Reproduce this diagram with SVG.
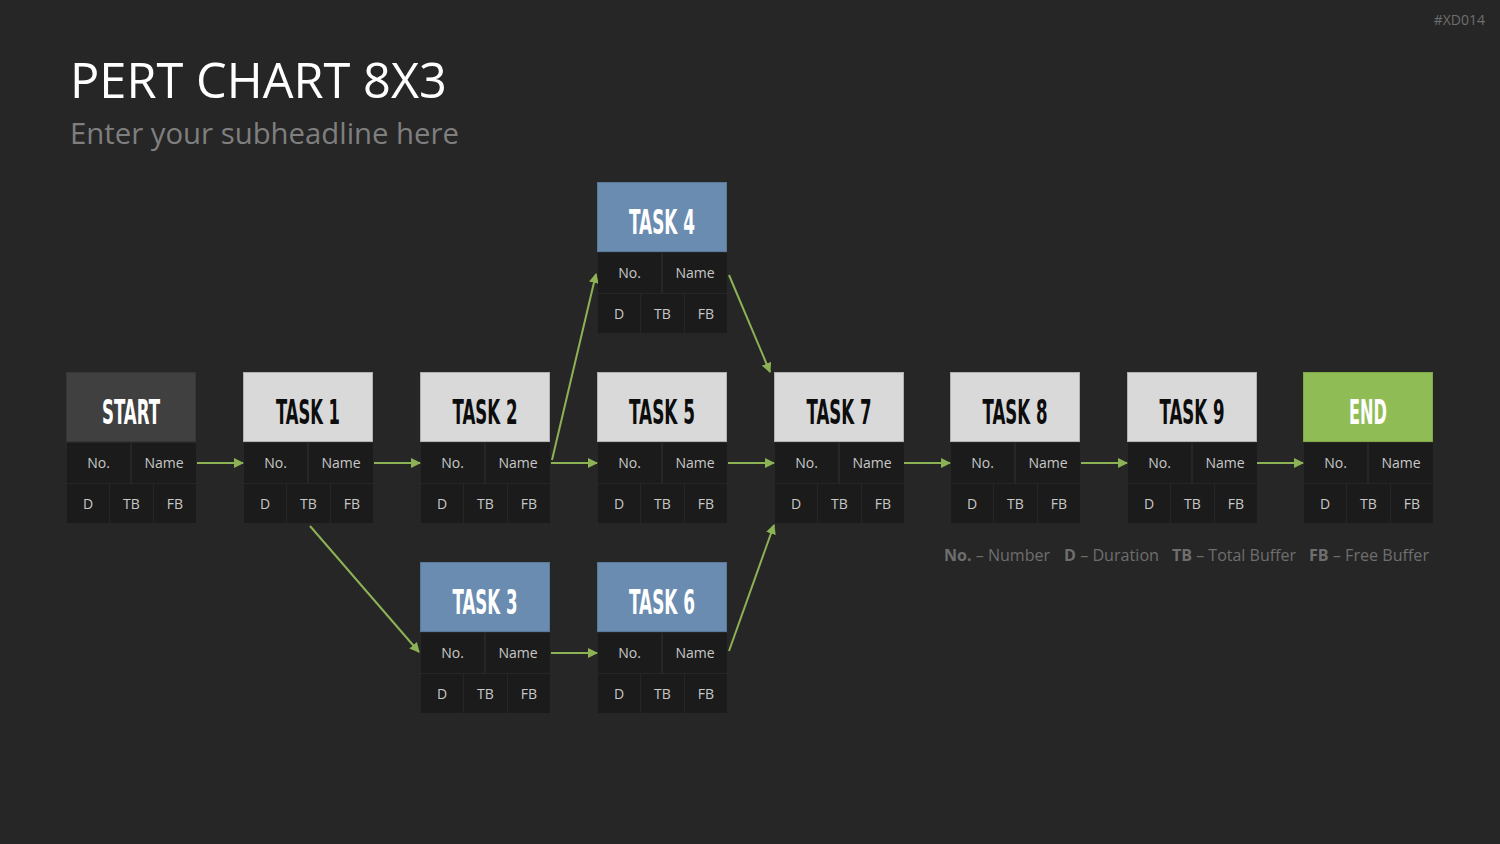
<svg xmlns="http://www.w3.org/2000/svg" width="1500" height="844" viewBox="0 0 1500 844">
<defs>
<style>
.hd{stroke-width:1}
.gray{fill:#d9d9d9;stroke:#b0b0b0}
.dark{fill:#404040;stroke:#363636}
.blue{fill:#6a8cb0;stroke:#5a7a9a}
.green{fill:#8fbc55;stroke:#7fa84a}
.cell{fill:#1b1b1b}
.ht{font-family:"Liberation Sans Narrow","DejaVu Sans Condensed","Liberation Sans",sans-serif;font-weight:bold;font-size:33px;text-anchor:middle}
.hk{fill:#0d0d0d}
.hw{fill:#ffffff}
.ct{font-family:"Open Sans","Liberation Sans",sans-serif;font-size:14px;fill:#c8c8c8;text-anchor:middle}
.cn{stroke:#8db255;stroke-width:2;fill:none;marker-end:url(#ah)}
.lg{font-family:"Open Sans","Liberation Sans",sans-serif;font-size:16px;fill:#6e6e6e}
</style>
<marker id="ah" viewBox="0 0 10 10" refX="9" refY="5" markerWidth="5" markerHeight="5" markerUnits="strokeWidth" orient="auto">
<path d="M0,0 L10,5 L0,10 z" fill="#8db255"/>
</marker>
</defs>
<rect width="1500" height="844" fill="#262626"/>
<text x="1485" y="25" font-family="'Open Sans','Liberation Sans',sans-serif" font-size="14" fill="#6e6e6e" text-anchor="end">#XD014</text>
<text x="70" y="98" font-family="'Open Sans','Liberation Sans',sans-serif" font-size="50" fill="#ffffff" textLength="377" lengthAdjust="spacingAndGlyphs">PERT CHART 8X3</text>
<text x="70" y="144" font-family="'Open Sans','Liberation Sans',sans-serif" font-size="30" fill="#7f7f7f" textLength="389" lengthAdjust="spacingAndGlyphs">Enter your subheadline here</text>

<g id="connectors">
<line class="cn" x1="197" y1="463" x2="243" y2="463"/>
<line class="cn" x1="374" y1="463" x2="420" y2="463"/>
<line class="cn" x1="551" y1="463" x2="597" y2="463"/>
<line class="cn" x1="728" y1="463" x2="774" y2="463"/>
<line class="cn" x1="904" y1="463" x2="950" y2="463"/>
<line class="cn" x1="1081" y1="463" x2="1127" y2="463"/>
<line class="cn" x1="1257" y1="463" x2="1303" y2="463"/>
<line class="cn" x1="552" y1="460" x2="596" y2="274"/>
<line class="cn" x1="729" y1="275" x2="770" y2="372"/>
<line class="cn" x1="310" y1="526" x2="419" y2="652"/>
<line class="cn" x1="551" y1="653" x2="597" y2="653"/>
<line class="cn" x1="729" y1="651" x2="774" y2="525"/>
</g>

<g id="start">
<rect class="hd dark" x="66.5" y="372.5" width="129" height="69"/>
<text class="ht hw" x="131" y="424" textLength="58" lengthAdjust="spacingAndGlyphs">START</text>
<rect class="cell" x="67" y="443" width="63" height="40"/><rect class="cell" x="132" y="443" width="64" height="40"/>
<rect class="cell" x="67" y="484" width="42" height="39"/><rect class="cell" x="110" y="484" width="43" height="39"/><rect class="cell" x="154" y="484" width="42" height="39"/>
<text class="ct" x="98.5" y="468">No.</text><text class="ct" x="164" y="468">Name</text>
<text class="ct" x="88" y="509">D</text><text class="ct" x="131.5" y="509">TB</text><text class="ct" x="175" y="509">FB</text>
</g>

<g id="task1">
<rect class="hd gray" x="243.5" y="372.5" width="129" height="69"/>
<text class="ht hk" x="308" y="424" textLength="64" lengthAdjust="spacingAndGlyphs">TASK 1</text>
<rect class="cell" x="244" y="443" width="63" height="40"/><rect class="cell" x="309" y="443" width="64" height="40"/>
<rect class="cell" x="244" y="484" width="42" height="39"/><rect class="cell" x="287" y="484" width="43" height="39"/><rect class="cell" x="331" y="484" width="42" height="39"/>
<text class="ct" x="275.5" y="468">No.</text><text class="ct" x="341" y="468">Name</text>
<text class="ct" x="265" y="509">D</text><text class="ct" x="308.5" y="509">TB</text><text class="ct" x="352" y="509">FB</text>
</g>

<g id="task2">
<rect class="hd gray" x="420.5" y="372.5" width="129" height="69"/>
<text class="ht hk" x="485" y="424" textLength="65" lengthAdjust="spacingAndGlyphs">TASK 2</text>
<rect class="cell" x="421" y="443" width="63" height="40"/><rect class="cell" x="486" y="443" width="64" height="40"/>
<rect class="cell" x="421" y="484" width="42" height="39"/><rect class="cell" x="464" y="484" width="43" height="39"/><rect class="cell" x="508" y="484" width="42" height="39"/>
<text class="ct" x="452.5" y="468">No.</text><text class="ct" x="518" y="468">Name</text>
<text class="ct" x="442" y="509">D</text><text class="ct" x="485.5" y="509">TB</text><text class="ct" x="529" y="509">FB</text>
</g>

<g id="task4">
<rect class="hd blue" x="597.5" y="182.5" width="129" height="69"/>
<text class="ht hw" x="662" y="234" textLength="66" lengthAdjust="spacingAndGlyphs">TASK 4</text>
<rect class="cell" x="598" y="253" width="63" height="40"/><rect class="cell" x="663" y="253" width="64" height="40"/>
<rect class="cell" x="598" y="294" width="42" height="39"/><rect class="cell" x="641" y="294" width="43" height="39"/><rect class="cell" x="685" y="294" width="42" height="39"/>
<text class="ct" x="629.5" y="278">No.</text><text class="ct" x="695" y="278">Name</text>
<text class="ct" x="619" y="319">D</text><text class="ct" x="662.5" y="319">TB</text><text class="ct" x="706" y="319">FB</text>
</g>

<g id="task5">
<rect class="hd gray" x="597.5" y="372.5" width="129" height="69"/>
<text class="ht hk" x="662" y="424" textLength="66" lengthAdjust="spacingAndGlyphs">TASK 5</text>
<rect class="cell" x="598" y="443" width="63" height="40"/><rect class="cell" x="663" y="443" width="64" height="40"/>
<rect class="cell" x="598" y="484" width="42" height="39"/><rect class="cell" x="641" y="484" width="43" height="39"/><rect class="cell" x="685" y="484" width="42" height="39"/>
<text class="ct" x="629.5" y="468">No.</text><text class="ct" x="695" y="468">Name</text>
<text class="ct" x="619" y="509">D</text><text class="ct" x="662.5" y="509">TB</text><text class="ct" x="706" y="509">FB</text>
</g>

<g id="task3">
<rect class="hd blue" x="420.5" y="562.5" width="129" height="69"/>
<text class="ht hw" x="485" y="614" textLength="65" lengthAdjust="spacingAndGlyphs">TASK 3</text>
<rect class="cell" x="421" y="633" width="63" height="40"/><rect class="cell" x="486" y="633" width="64" height="40"/>
<rect class="cell" x="421" y="674" width="42" height="39"/><rect class="cell" x="464" y="674" width="43" height="39"/><rect class="cell" x="508" y="674" width="42" height="39"/>
<text class="ct" x="452.5" y="658">No.</text><text class="ct" x="518" y="658">Name</text>
<text class="ct" x="442" y="699">D</text><text class="ct" x="485.5" y="699">TB</text><text class="ct" x="529" y="699">FB</text>
</g>

<g id="task6">
<rect class="hd blue" x="597.5" y="562.5" width="129" height="69"/>
<text class="ht hw" x="662" y="614" textLength="66" lengthAdjust="spacingAndGlyphs">TASK 6</text>
<rect class="cell" x="598" y="633" width="63" height="40"/><rect class="cell" x="663" y="633" width="64" height="40"/>
<rect class="cell" x="598" y="674" width="42" height="39"/><rect class="cell" x="641" y="674" width="43" height="39"/><rect class="cell" x="685" y="674" width="42" height="39"/>
<text class="ct" x="629.5" y="658">No.</text><text class="ct" x="695" y="658">Name</text>
<text class="ct" x="619" y="699">D</text><text class="ct" x="662.5" y="699">TB</text><text class="ct" x="706" y="699">FB</text>
</g>

<g id="task7">
<rect class="hd gray" x="774.5" y="372.5" width="129" height="69"/>
<text class="ht hk" x="839" y="424" textLength="65" lengthAdjust="spacingAndGlyphs">TASK 7</text>
<rect class="cell" x="775" y="443" width="63" height="40"/><rect class="cell" x="840" y="443" width="64" height="40"/>
<rect class="cell" x="775" y="484" width="42" height="39"/><rect class="cell" x="818" y="484" width="43" height="39"/><rect class="cell" x="862" y="484" width="42" height="39"/>
<text class="ct" x="806.5" y="468">No.</text><text class="ct" x="872" y="468">Name</text>
<text class="ct" x="796" y="509">D</text><text class="ct" x="839.5" y="509">TB</text><text class="ct" x="883" y="509">FB</text>
</g>

<g id="task8">
<rect class="hd gray" x="950.5" y="372.5" width="129" height="69"/>
<text class="ht hk" x="1015" y="424" textLength="65" lengthAdjust="spacingAndGlyphs">TASK 8</text>
<rect class="cell" x="951" y="443" width="63" height="40"/><rect class="cell" x="1016" y="443" width="64" height="40"/>
<rect class="cell" x="951" y="484" width="42" height="39"/><rect class="cell" x="994" y="484" width="43" height="39"/><rect class="cell" x="1038" y="484" width="42" height="39"/>
<text class="ct" x="982.5" y="468">No.</text><text class="ct" x="1048" y="468">Name</text>
<text class="ct" x="972" y="509">D</text><text class="ct" x="1015.5" y="509">TB</text><text class="ct" x="1059" y="509">FB</text>
</g>

<g id="task9">
<rect class="hd gray" x="1127.5" y="372.5" width="129" height="69"/>
<text class="ht hk" x="1192" y="424" textLength="65" lengthAdjust="spacingAndGlyphs">TASK 9</text>
<rect class="cell" x="1128" y="443" width="63" height="40"/><rect class="cell" x="1193" y="443" width="64" height="40"/>
<rect class="cell" x="1128" y="484" width="42" height="39"/><rect class="cell" x="1171" y="484" width="43" height="39"/><rect class="cell" x="1215" y="484" width="42" height="39"/>
<text class="ct" x="1159.5" y="468">No.</text><text class="ct" x="1225" y="468">Name</text>
<text class="ct" x="1149" y="509">D</text><text class="ct" x="1192.5" y="509">TB</text><text class="ct" x="1236" y="509">FB</text>
</g>

<g id="end">
<rect class="hd green" x="1303.5" y="372.5" width="129" height="69"/>
<text class="ht hw" x="1368" y="424" textLength="38" lengthAdjust="spacingAndGlyphs">END</text>
<rect class="cell" x="1304" y="443" width="63" height="40"/><rect class="cell" x="1369" y="443" width="64" height="40"/>
<rect class="cell" x="1304" y="484" width="42" height="39"/><rect class="cell" x="1347" y="484" width="43" height="39"/><rect class="cell" x="1391" y="484" width="42" height="39"/>
<text class="ct" x="1335.5" y="468">No.</text><text class="ct" x="1401" y="468">Name</text>
<text class="ct" x="1325" y="509">D</text><text class="ct" x="1368.5" y="509">TB</text><text class="ct" x="1412" y="509">FB</text>
</g>

<g id="legend">
<text class="lg" x="944" y="561" textLength="106" lengthAdjust="spacingAndGlyphs"><tspan font-weight="bold">No.</tspan> – Number</text>
<text class="lg" x="1064" y="561" textLength="95" lengthAdjust="spacingAndGlyphs"><tspan font-weight="bold">D</tspan> – Duration</text>
<text class="lg" x="1172" y="561" textLength="124" lengthAdjust="spacingAndGlyphs"><tspan font-weight="bold">TB</tspan> – Total Buffer</text>
<text class="lg" x="1309" y="561" textLength="120" lengthAdjust="spacingAndGlyphs"><tspan font-weight="bold">FB</tspan> – Free Buffer</text>
</g>
</svg>
